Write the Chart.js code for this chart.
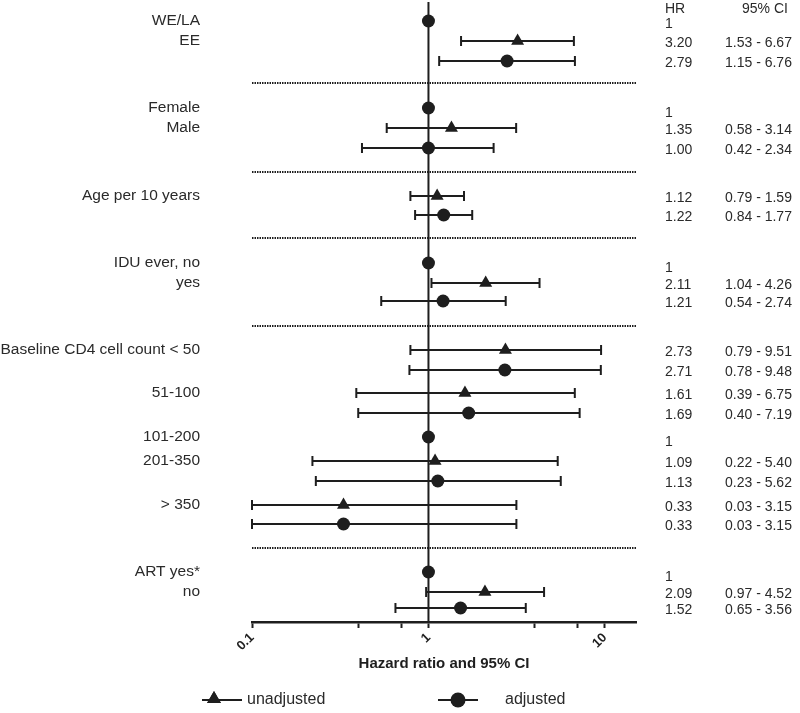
<!DOCTYPE html>
<html>
<head>
<meta charset="utf-8">
<title>Hazard ratio and 95% CI</title>
<script src="https://cdn.jsdelivr.net/npm/chart.js@4.4.0/dist/chart.umd.min.js"></script>
<style>
    html, body { margin: 0; padding: 0; background: #fff; }
    #wrap { width: 800px; height: 713px; position: relative; }
</style>
</head>
<body>
<div id="wrap"><canvas id="forestChart"></canvas></div>
<script>
// --- Data ---
// kind of row: 'ref' = reference category, 'unadj' = unadjusted HR, 'adj' = adjusted HR
const rowKind = ['ref', 'unadj', 'adj',
                 'ref', 'unadj', 'adj',
                 'unadj', 'adj',
                 'ref', 'unadj', 'adj',
                 'unadj', 'adj', 'unadj', 'adj', 'ref', 'unadj', 'adj', 'unadj', 'adj',
                 'ref', 'unadj', 'adj'];
// vertical position of each row (row units, top = 0)
const rowPos = [0.95, 1.95, 2.95,
                5.3, 6.3, 7.3,
                9.7, 10.65,
                13.05, 14.05, 14.95,
                17.4, 18.4, 19.55, 20.55, 21.75, 22.95, 23.95, 25.15, 26.1,
                28.5, 29.5, 30.3];
const hazardRatio = [1, 3.20, 2.79,
                     1, 1.35, 1.00,
                     1.12, 1.22,
                     1, 2.11, 1.21,
                     2.73, 2.71, 1.61, 1.69, 1, 1.09, 1.13, 0.33, 0.33,
                     1, 2.09, 1.52];
const ciLower = [null, 1.53, 1.15,
                 null, 0.58, 0.42,
                 0.79, 0.84,
                 null, 1.04, 0.54,
                 0.79, 0.78, 0.39, 0.40, null, 0.22, 0.23, 0.03, 0.03,
                 null, 0.97, 0.65];
const ciUpper = [null, 6.67, 6.76,
                 null, 3.14, 2.34,
                 1.59, 1.77,
                 null, 4.26, 2.74,
                 9.51, 9.48, 6.75, 7.19, null, 5.40, 5.62, 3.15, 3.15,
                 null, 4.52, 3.56];
const rowLabels = ['WE/LA', 'EE', '',
                   'Female', 'Male', '',
                   'Age per 10 years', '',
                   'IDU ever, no', 'yes', '',
                   'Baseline CD4 cell count < 50', '', '51-100', '', '101-200', '201-350', '', '> 350', '',
                   'ART yes*', 'no', ''];
const separatorPos = [4.05, 8.5, 11.8, 16.2, 27.3];
const xTickValues = [0.1, 0.4, 0.7, 1, 4, 7, 10];
const xTickLabels = ['0.1', '', '', '1', '', '', '10'];

const ink = '#1e1e1e';
const textColor = '#2a2a2a';
const fontFamily = "'Liberation Sans', Arial, sans-serif";

// points for each series, built from the arrays above
const pointsFor = (kind) => rowKind
    .map((k, i) => (k === kind ? { x: hazardRatio[i], y: rowPos[i] } : null))
    .filter(p => p !== null);

// --- Error bars, separators, text columns and legend ---
const forestPlugin = {
    id: 'forest',
    beforeDatasetsDraw(chart) {
        const { ctx, chartArea, scales: { x, y } } = chart;
        ctx.save();
        ctx.strokeStyle = ink;

        // dotted group separators
        ctx.lineWidth = 2;
        ctx.setLineDash([1.5, 1]);
        separatorPos.forEach(p => {
            const py = Math.round(y.getPixelForValue(p));
            ctx.beginPath();
            ctx.moveTo(chartArea.left, py);
            ctx.lineTo(chartArea.right, py);
            ctx.stroke();
        });
        ctx.setLineDash([]);

        // line of no effect at HR = 1
        const x1 = x.getPixelForValue(1);
        ctx.lineWidth = 2;
        ctx.beginPath();
        ctx.moveTo(x1, chartArea.top);
        ctx.lineTo(x1, chartArea.bottom);
        ctx.stroke();

        // confidence intervals
        ctx.lineWidth = 2;
        rowKind.forEach((k, i) => {
            if (k === 'ref') return;
            const py = y.getPixelForValue(rowPos[i]);
            const xl = x.getPixelForValue(Math.max(ciLower[i], x.min));
            const xr = x.getPixelForValue(Math.min(ciUpper[i], x.max));
            ctx.beginPath();
            ctx.moveTo(xl, py);
            ctx.lineTo(xr, py);
            ctx.moveTo(xl, py - 5);
            ctx.lineTo(xl, py + 5);
            ctx.moveTo(xr, py - 5);
            ctx.lineTo(xr, py + 5);
            ctx.stroke();
        });
        ctx.restore();
    },
    afterDraw(chart) {
        const { ctx, scales: { y } } = chart;
        ctx.save();
        ctx.fillStyle = textColor;
        ctx.textBaseline = 'middle';

        // category labels on the left
        ctx.font = `15.5px ${fontFamily}`;
        ctx.textAlign = 'right';
        rowLabels.forEach((label, i) => {
            if (label) ctx.fillText(label, 200, y.getPixelForValue(rowPos[i]));
        });

        // HR and CI columns on the right
        ctx.font = `14px ${fontFamily}`;
        ctx.textAlign = 'left';
        ctx.fillText('HR', 665, 9);
        ctx.fillText('95% CI', 742, 9);
        rowKind.forEach((k, i) => {
            const py = y.getPixelForValue(rowPos[i]);
            if (k === 'ref') {
                ctx.fillText('1', 665, py + (i === 0 ? 3 : 5));
            } else {
                ctx.fillText(hazardRatio[i].toFixed(2), 665, py + 2);
                ctx.fillText(`${ciLower[i].toFixed(2)} - ${ciUpper[i].toFixed(2)}`, 725, py + 2);
            }
        });

        // legend
        const ly = 700;
        ctx.strokeStyle = ink;
        ctx.fillStyle = ink;
        ctx.lineWidth = 2;
        ctx.beginPath();
        ctx.moveTo(202, ly);
        ctx.lineTo(242, ly);
        ctx.moveTo(438, ly);
        ctx.lineTo(478, ly);
        ctx.stroke();
        Chart.helpers.drawPoint(ctx, { pointStyle: 'triangle', radius: 8, rotation: 0, borderWidth: 0 }, 214, ly - 1);
        ctx.fill();
        ctx.beginPath();
        ctx.arc(458, ly, 7.5, 0, Math.PI * 2);
        ctx.fill();

        ctx.fillStyle = textColor;
        ctx.font = `16px ${fontFamily}`;
        ctx.fillText('unadjusted', 247, ly);
        ctx.fillText('adjusted', 505, ly);
        ctx.restore();
    }
};

document.addEventListener('DOMContentLoaded', () => {
    const ctx = document.getElementById('forestChart').getContext('2d');
    new Chart(ctx, {
        type: 'scatter',
        data: {
            datasets: [
                {
                    label: 'reference',
                    data: pointsFor('ref'),
                    pointStyle: 'circle',
                    pointRadius: 6.5,
                    backgroundColor: ink,
                    borderColor: ink,
                    borderWidth: 0
                },
                {
                    label: 'unadjusted',
                    data: pointsFor('unadj'),
                    pointStyle: 'triangle',
                    pointRadius: 7.5,
                    backgroundColor: ink,
                    borderColor: ink,
                    borderWidth: 0
                },
                {
                    label: 'adjusted',
                    data: pointsFor('adj'),
                    pointStyle: 'circle',
                    pointRadius: 6.5,
                    backgroundColor: ink,
                    borderColor: ink,
                    borderWidth: 0
                }
            ]
        },
        options: {
            responsive: true,
            maintainAspectRatio: false,
            animation: false,
            layout: {
                autoPadding: false,
                padding: { left: 252, right: 164, top: 2, bottom: 36 }
            },
            plugins: {
                legend: { display: false },
                tooltip: { enabled: false }
            },
            scales: {
                x: {
                    type: 'logarithmic',
                    min: 0.1,
                    max: 15,
                    afterBuildTicks: (scale) => {
                        scale.ticks = xTickValues.map(v => ({ value: v }));
                    },
                    afterFit: (scale) => { scale.height = 55; },
                    ticks: {
                        autoSkip: false,
                        minRotation: 45,
                        maxRotation: 45,
                        padding: 2,
                        color: ink,
                        font: { family: fontFamily, size: 13, weight: 'bold' },
                        callback: (value) => xTickLabels[xTickValues.indexOf(value)] ?? ''
                    },
                    grid: {
                        drawOnChartArea: false,
                        drawTicks: true,
                        tickLength: 6,
                        tickWidth: 2,
                        color: ink
                    },
                    border: { display: true, color: ink, width: 2.5 },
                    title: {
                        display: true,
                        text: 'Hazard ratio and 95% CI',
                        color: ink,
                        font: { family: fontFamily, size: 15, weight: 'bold' },
                        padding: { top: 4, bottom: 4 }
                    }
                },
                y: {
                    type: 'linear',
                    reverse: true,
                    min: 0,
                    max: 31,
                    display: false
                }
            }
        },
        plugins: [forestPlugin]
    });
});
</script>
</body>
</html>
